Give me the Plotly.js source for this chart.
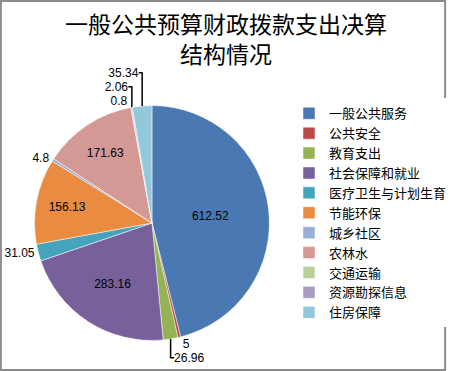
<!DOCTYPE html>
<html>
<head>
<meta charset="utf-8">
<script src="https://cdn.plot.ly/plotly-3.0.1.min.js"></script>
<style>
html,body{margin:0;padding:0;background:#fff;}
#chart{width:452px;height:371px;}
</style>
</head>
<body>
<div id="chart"></div>
<script>
const categories = ["一般公共服务","公共安全","教育支出","社会保障和就业","医疗卫生与计划生育","节能环保","城乡社区","农林水","交通运输","资源勘探信息","住房保障"];
const values = [612.52, 5, 26.96, 283.16, 31.05, 156.13, 4.8, 171.63, 0.8, 2.06, 35.34];
const colors = ["#4A78B2","#B94A47","#93B354","#78609A","#46A3BC","#E98C42","#97B0D4","#D49895","#BAD29A","#AB9CC2","#93C8DA"];

const trace = {
  type: "pie",
  labels: categories,
  values: values,
  sort: false,
  direction: "clockwise",
  rotation: 0,
  marker: {colors: colors, line: {color: "#ffffff", width: 0.5}},
  texttemplate: "%{value}",
  textposition: values.map(v => v > 100 ? "inside" : "outside"),
  insidetextorientation: "horizontal",
  insidetextfont: {family: "Liberation Sans, Arial, sans-serif", size: 12, color: "#000"},
  outsidetextfont: {family: "Liberation Sans, Arial, sans-serif", size: 12, color: "#000"},
  domain: {x: [0.0774, 0.604], y: [0.0768, 0.721]},
  hoverinfo: "label+value"
};

const layout = {
  width: 452, height: 371,
  margin: {l: 0, r: 0, t: 0, b: 0},
  paper_bgcolor: "#fff",
  title: {
    text: "一般公共预算财政拨款支出决算<br>结构情况",
    font: {family: "Noto Sans CJK SC", size: 23, color: "#000"},
    x: 0.5, xanchor: "center", y: 0.912, yanchor: "top"
  },
  showlegend: true,
  legend: {
    x: 0.648, y: 0.735, xanchor: "left", yanchor: "top",
    font: {family: "Noto Sans CJK SC", size: 13, color: "#000"},
    itemwidth: 30, tracegroupgap: 0
  },
  shapes: [{
    type: "rect", xref: "paper", yref: "paper",
    x0: 0.002, x1: 0.998, y0: 0.003, y1: 0.997,
    line: {color: "#8c8c8c", width: 2}
  }]
};

Plotly.newPlot("chart", [trace], layout, {displayModeBar: false, staticPlot: true});
</script>
</body>
</html>
